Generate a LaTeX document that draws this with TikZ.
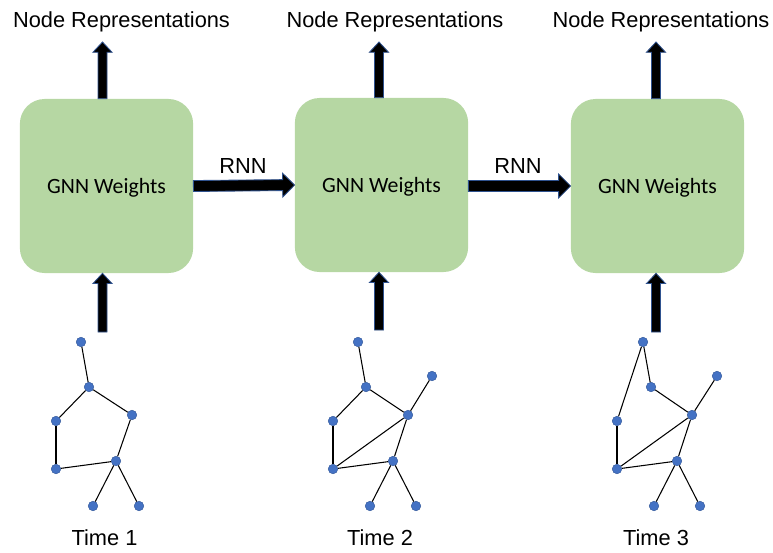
\documentclass[tikz,border=0pt]{standalone}
\usepackage{fontspec}
\setmainfont{Liberation Sans}
\newfontfamily\calibri{Carlito}
\usetikzlibrary{calc}
\definecolor{cgreen}{HTML}{B6D7A3}
\definecolor{cdot}{HTML}{4472C4}
\definecolor{cdotline}{HTML}{2F5597}
\definecolor{cline}{HTML}{2F528F}
\tikzset{
  gnn/.style={fill=cgreen, rounded corners=0.62cm, minimum width=4.33cm, minimum height=4.35cm,
    font=\calibri\fontsize{15.5}{18}\selectfont, text depth=0pt},
  gdot/.style={circle, fill=cdot, draw=cdotline, line width=0.3pt, inner sep=0pt, minimum size=0.24cm},
  gedge/.style={line width=0.75pt},
  lbl/.style={font=\fontsize{15.5}{18}\selectfont, anchor=base},
  fat/.style n args={3}{fill=black, draw=cline, line width=0.6pt,
    to path={let \p1=(\tikztostart), \p2=(\tikztotarget),
      \n1={atan2(\y2-\y1,\x2-\x1)} in
      ($(\p1)+(\n1+90:#1)$) -- ($(\p2)+(\n1+180:#3)+(\n1+90:#1)$)
      -- ($(\p2)+(\n1+180:#3)+(\n1+90:#2)$) -- (\p2)
      -- ($(\p2)+(\n1+180:#3)+(\n1-90:#2)$) -- ($(\p2)+(\n1+180:#3)+(\n1-90:#1)$)
      -- ($(\p1)+(\n1-90:#1)$) -- cycle}},
  vfat/.style={fat={3.2pt}{6.8pt}{7.3pt}},
  hfat/.style={fat={3.9pt}{8.5pt}{8.5pt}}
}

\begin{document}
\begin{tikzpicture}[x=0.025cm, y=-0.025cm]
\useasboundingbox (0,0) rectangle (773,552);

% GNN boxes
\node[gnn] (g1) at (106.5,186) {GNN Weights};
\node[gnn] (g2) at (381.5,185) {GNN Weights};
\node[gnn] (g3) at (657.5,186) {GNN Weights};

% outputs
\node[lbl] (o1) at (121.5,27) {Node Representations};
\node[lbl] (o2) at (395,27) {Node Representations};
\node[lbl] (o3) at (661,27) {Node Representations};
\coordinate (u1) at (102.5,42);
\coordinate (u2) at (379,42);
\coordinate (u3) at (656,42);
\draw[vfat] (g1.north -| u1) to (u1);
\draw[vfat] (g2.north -| u2) to (u2);
\draw[vfat] (g3.north -| u3) to (u3);

% RNN links
\draw[hfat] (g1.east) to (g2.west -| g2.west);
\draw[hfat] (g2.east |- g1.east) to (g3.west);
\node[lbl] (r1) at (243,173) {RNN};
\node[lbl] (r2) at (518,173) {RNN};

% inputs
\coordinate (d1) at (102.5,332);
\coordinate (d2) at (379,330);
\coordinate (d3) at (656,332);
\draw[vfat] (d1) to (g1.south -| d1);
\draw[vfat] (d2) to (g2.south -| d2);
\draw[vfat] (d3) to (g3.south -| d3);

% graph at time 1
\node[gdot] (t1a) at (81,342) {};
\node[gdot] (t1b) at (89,387) {};
\node[gdot] (t1c) at (132,415) {};
\node[gdot] (t1d) at (56,421) {};
\node[gdot] (t1e) at (56,469) {};
\node[gdot] (t1f) at (116,461) {};
\node[gdot] (t1g) at (93,506) {};
\node[gdot] (t1h) at (139,506) {};
\foreach \s/\t in {a/b, b/d, b/c, d/e, e/f, c/f, f/g, f/h}
  \draw[gedge] (t1\s) -- (t1\t);

% graph at time 2
\node[gdot] (t2a) at (358,342) {};
\node[gdot] (t2b) at (366,387) {};
\node[gdot] (t2c) at (408,415) {};
\node[gdot] (t2i) at (432,376) {};
\node[gdot] (t2d) at (333,421) {};
\node[gdot] (t2e) at (333,469) {};
\node[gdot] (t2f) at (393,461) {};
\node[gdot] (t2g) at (370,506) {};
\node[gdot] (t2h) at (416,506) {};
\foreach \s/\t in {a/b, b/d, b/c, c/i, d/e, e/c, e/f, c/f, f/g, f/h}
  \draw[gedge] (t2\s) -- (t2\t);

% graph at time 3
\node[gdot] (t3a) at (643,342) {};
\node[gdot] (t3b) at (651,387) {};
\node[gdot] (t3c) at (692,415) {};
\node[gdot] (t3i) at (717,376) {};
\node[gdot] (t3d) at (617,421) {};
\node[gdot] (t3e) at (617,469) {};
\node[gdot] (t3f) at (677,461) {};
\node[gdot] (t3g) at (654,506) {};
\node[gdot] (t3h) at (700,506) {};
\foreach \s/\t in {a/b, a/d, b/c, c/i, d/e, e/c, e/f, c/f, f/g, f/h}
  \draw[gedge] (t3\s) -- (t3\t);

% time labels
\node[lbl] (l1) at (104.5,545) {Time 1};
\node[lbl] (l2) at (380,545) {Time 2};
\node[lbl] (l3) at (656,545) {Time 3};
\end{tikzpicture}
\end{document}
